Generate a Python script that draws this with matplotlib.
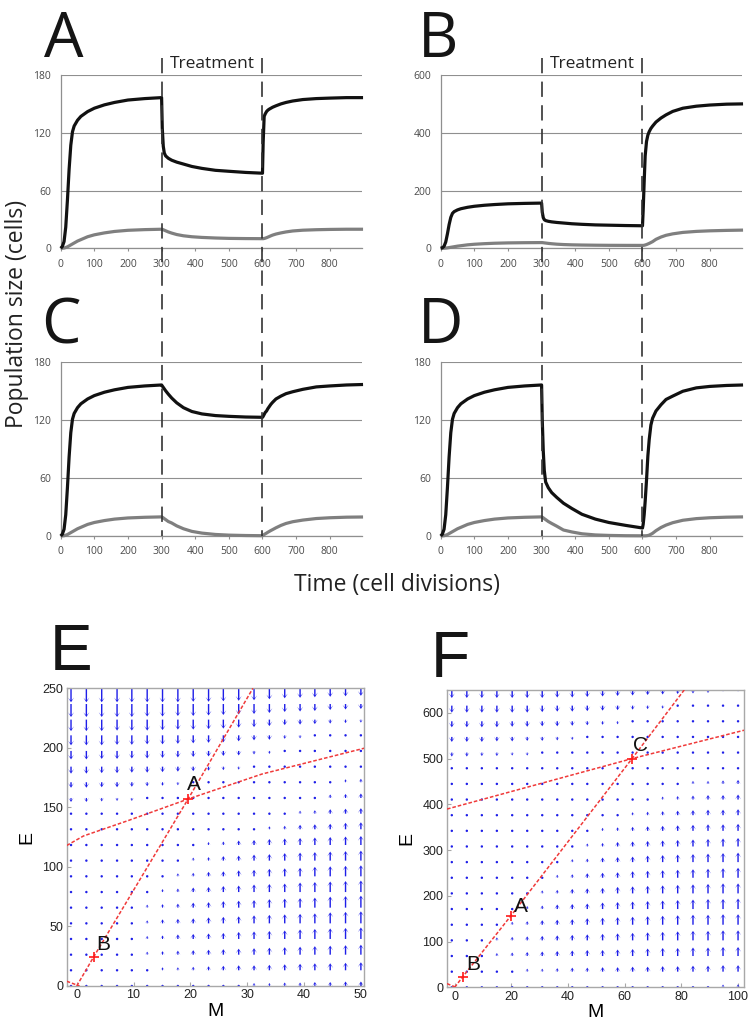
import numpy as np
import matplotlib
matplotlib.use('Agg')
import matplotlib.pyplot as plt
from matplotlib.lines import Line2D
from matplotlib.transforms import blended_transform_factory

plt.rcParams['lines.scale_dashes'] = False
plt.rcParams['font.family'] = ['Liberation Sans', 'DejaVu Sans']

# ------------------------------------------------------------------ data
t = [0, 5, 10, 15, 20, 25, 30, 35, 40, 50, 60, 80, 100, 130, 160, 200, 250, 300,
     302, 305, 308, 312, 320, 330, 345, 365, 390, 420, 460, 500, 550, 600,
     602, 605, 608, 612, 616, 620, 625, 630, 640, 655, 670, 690, 720, 760, 800, 850, 899]

black_A = [0, 2, 7, 22, 50, 82, 107, 121, 127, 133, 137, 142, 145.5, 149, 151.5, 154, 155.5, 156.5,
           125, 106, 99, 96, 93.5, 91.5, 89.5, 87.5, 85, 83, 81, 80, 78.8, 78,
           110, 137, 139.5, 142, 143.5, 144.5, 145.5, 146.5, 148, 150, 151.5, 153, 154.5, 155.5, 156, 156.5, 156.5]
gray_A = [0, 0.1, 0.3, 0.8, 1.5, 2.5, 3.5, 4.5, 5.5, 7.5, 9, 12, 14, 16, 17.5, 18.7, 19.4, 19.8,
          19.7, 19.3, 18.8, 18.2, 17, 15.8, 14.3, 13, 12, 11.3, 10.7, 10.3, 10.1, 10,
          10, 10.2, 10.5, 11, 11.6, 12.2, 13, 13.7, 14.8, 16, 17, 18, 18.8, 19.3, 19.6, 19.8, 19.8]

black_B = [0, 2, 7, 22, 50, 82, 107, 121, 127, 133, 137, 142, 145.5, 149, 151.5, 154, 155.5, 156.5,
           125, 106, 99, 96, 93.5, 91.5, 89.5, 87.5, 85, 83, 81, 80, 78.8, 78,
           130, 230, 320, 370, 392, 404, 415, 423, 437, 451, 462, 474, 485, 492, 496, 499, 500]
gray_B = [0, 0.1, 0.3, 0.8, 1.5, 2.5, 3.5, 4.5, 5.5, 7.5, 9, 12, 14, 16, 17.5, 18.7, 19.4, 19.8,
          19.7, 19.3, 18.8, 18.2, 17, 15.8, 14.3, 13, 12, 11.3, 10.7, 10.3, 10.1, 10,
          10, 10.5, 11.5, 13, 15, 17, 20, 23, 31, 39, 45, 50, 55, 58.5, 60.5, 62, 63]

black_C = [0, 2, 7, 22, 50, 82, 107, 121, 127, 133, 137, 142, 145.5, 149, 151.5, 154, 155.5, 156.5,
           155.5, 154, 152.5, 150.5, 147, 143, 138, 133, 129, 126.5, 124.8, 124, 123.3, 123,
           124, 126, 128, 129.5, 132, 134, 136.5, 138.5, 142, 145, 147.5, 149.5, 152, 154.5, 155.5, 156.5, 157]
gray_C = [0, 0.1, 0.3, 0.8, 1.5, 2.5, 3.5, 4.5, 5.5, 7.5, 9, 12, 14, 16, 17.5, 18.7, 19.4, 19.8,
          19.5, 18.8, 18, 17, 15, 13.5, 10.5, 7.5, 4.8, 3, 1.6, 0.9, 0.5, 0.3,
          0.8, 1.5, 2.2, 3, 3.9, 4.7, 5.7, 6.6, 8.5, 11, 13, 14.8, 16.5, 18.1, 18.9, 19.5, 19.7]

black_D = [0, 2, 7, 22, 50, 82, 107, 121, 127, 133, 137, 142, 145.5, 149, 151.5, 154, 155.5, 156.5,
           120, 88, 68, 56, 50, 45, 40, 34, 28.5, 22.5, 17.5, 14, 11, 8.3,
           12, 22, 36, 58, 83, 100, 115, 122, 129.5, 136, 141.5, 145, 150, 153.5, 155, 156, 156.5]
gray_D = [0, 0.1, 0.3, 0.8, 1.5, 2.5, 3.5, 4.5, 5.5, 7.5, 9, 12, 14, 16, 17.5, 18.7, 19.4, 19.8,
          19.5, 18.8, 18, 17, 15, 13, 10.2, 6.2, 4.2, 2.3, 1.1, 0.6, 0.3, 0.2,
          0.2, 0.2, 0.2, 0.3, 0.5, 0.9, 1.8, 2.8, 5.5, 8.8, 11.3, 13.8, 16.3, 18, 18.9, 19.5, 19.8]

time_xticks = [0, 100, 200, 300, 400, 500, 600, 700, 800]
yticks_small = [0, 60, 120, 180]
yticks_large = [0, 200, 400, 600]
treatment_bounds = [300, 600]

# phase-plane grids and vertical field components (arrow length, px; + = up)
e_M = [-1, 1.7, 4.4, 7.1, 9.7, 12.4, 15.1, 17.8, 20.5, 23.2, 25.8, 28.5, 31.2, 33.9, 36.6, 39.3, 41.9, 44.6, 47.3, 50]
e_E = [250, 236.8, 223.7, 210.5, 197.4, 184.2, 171.1, 157.9, 144.7, 131.6,
       118.4, 105.3, 92.1, 78.9, 65.8, 52.6, 39.5, 26.3, 13.2, 0]
e_V = [
    [-14, -14, -14, -14, -14, -14, -14, -14, -13.5, -13.5, -13, -12.5, -12, -11, -10, -9.5, -9, -8.5, -8, -7.5],
    [-13, -13, -13, -13, -13, -12.5, -12.5, -12, -12, -11.5, -11, -10.5, -10, -9, -8, -7.5, -7, -6, -5.5, -5],
    [-11.5, -11.5, -11.5, -11, -11, -11, -10.5, -10, -10, -9.5, -9, -8, -7.5, -6.5, -5.5, -5, -4.5, -4, -3.5, -3],
    [-10, -10, -10, -9.5, -9.5, -9, -9, -8.5, -8, -7.5, -7, -6, -5, -4.5, -3.5, -3, -2.5, -2, -1.5, -1.5],
    [-8.5, -8.5, -8, -8, -7.5, -7.5, -7, -6.5, -6, -5.5, -5, -4.5, -3.5, -3, -2.5, -2, -1.5, -1, -1, -1],
    [-7, -7, -6.5, -6.5, -6, -6, -5.5, -5, -4.5, -4, -3.5, -3, -2.5, -2, -1.5, -1, -1, 1, 1.5, 2],
    [-5.5, -5.5, -5, -5, -4.5, -4, -3.5, -3, -2.5, -2, -1.5, -1, -1, -1, 1, 1, 1.5, 2.5, 3, 3.5],
    [-4, -4, -3.5, -3, -3, -2.5, -2, -1.5, -1, -1, -0.5, 0.5, 1, 1, 1.5, 2, 2.5, 3.5, 4, 4.5],
    [-2.5, -2.5, -2, -2, -1.5, -1.5, -1, -1, -1, -0.5, 0.5, 1, 1.5, 2, 2.5, 3, 3.5, 4.5, 5, 5.5],
    [-1.5, -1.5, -1, -1, -1, -1, -0.5, -0.5, 0.5, 1, 1.5, 2, 2.5, 3, 3.5, 4.5, 5, 5.5, 6.5, 7],
    [-0.8, -0.8, -0.8, -0.8, -0.8, -0.8, 0.8, 1.5, 2.5, 3, 3.5, 4.5, 5, 6, 6.5, 7, 7.5, 8, 8.5, 9],
    [-0.8, -0.8, -0.8, -0.8, -0.8, 0.8, 1.5, 2.5, 3, 3.5, 4.5, 5, 6, 6.5, 7.5, 8, 8.5, 9, 9.5, 10],
    [-0.8, -0.8, -0.8, -0.8, 0.8, 1.5, 2.5, 3, 3.5, 4.5, 5, 6, 6.5, 7.5, 8, 8.5, 9.5, 10, 10.5, 11],
    [-0.8, -0.8, -0.8, 0.8, 1.5, 2.5, 3, 3.5, 4.5, 5, 6, 6.5, 7.5, 8, 8.5, 9.5, 10, 10.5, 11, 11.5],
    [-0.8, -0.8, 0.8, 1.5, 2, 3, 3.5, 4, 5, 5.5, 6.5, 7, 7.5, 8.5, 9, 9.5, 10, 11, 11.5, 12],
    [-0.8, 0.8, 1, 2, 2.5, 3, 4, 4.5, 5, 6, 6.5, 7, 8, 8.5, 9, 9.5, 10, 11, 11.5, 12],
    [-0.8, 0.8, 1.5, 2, 2.5, 3, 3.5, 4.5, 5, 5.5, 6, 7, 7.5, 8, 8.5, 9.5, 10, 10.5, 11, 11.5],
    [0.8, 0.8, 1.5, 2, 2.5, 3, 3.5, 4, 4.5, 5, 5.5, 6, 6.5, 7, 7.5, 8, 8.5, 9, 9.5, 10],
    [0.8, 1, 1.5, 1.5, 2, 2.5, 3, 3, 3.5, 4, 4.5, 5, 5, 5.5, 6, 6.5, 7, 7, 7.5, 8],
    [0.5, 0.5, 0.8, 0.8, 1, 1, 1.5, 1.5, 2, 2, 2.5, 2.5, 3, 3, 3.5, 3.5, 4, 4, 4.5, 4.5],
]

f_M = [-1, 4.3, 9.6, 14.9, 20.3, 25.6, 30.9, 36.2, 41.5, 46.8, 52.2, 57.5, 62.8, 68.1, 73.4, 78.7, 84.1, 89.4, 94.7, 100]
f_E = [650, 615.8, 581.6, 547.4, 513.2, 478.9, 444.7, 410.5, 376.3, 342.1,
       307.9, 273.7, 239.5, 205.3, 171.1, 136.8, 102.6, 68.4, 34.2, 0]
f_V = [
    [-8, -8, -8, -8, -8, -8, -8, -7.5, -7.5, -7, -6.5, -6, -5.5, -5, -4.5, -4, -3.5, -3, -2.5, -2],
    [-7, -7, -7, -7, -7, -7, -6.5, -6, -6, -5.5, -5, -4.5, -4, -3.5, -3, -2.5, -2, -1.5, -1.5, -1],
    [-6, -6, -6, -6, -5.5, -5.5, -5, -5, -4.5, -4, -3.5, -3, -2.5, -2, -1.5, -1, -1, -0.8, -0.8, -0.8],
    [-5, -5, -5, -4.5, -4.5, -4, -4, -3.5, -3, -2.5, -2, -1.5, -1, -1, -0.8, -0.8, -0.8, 0.8, 0.8, 0.8],
    [-4, -4, -3.5, -3.5, -3, -3, -2.5, -2, -1.5, -1.5, -1, -0.8, -0.8, 0.8, 0.8, 0.8, 1, 1, 1.5, 1.5],
    [-2.5, -2.5, -2.5, -2, -2, -1.5, -1.5, -1, -1, -0.8, -0.8, -0.8, 0.8, 1, 1.5, 1.5, 2, 2, 2.5, 2.5],
    [-1.5, -1.5, -1.5, -1.5, -1, -1, -1, -0.8, -0.8, -0.8, -0.8, 0.8, 1, 1.5, 2, 2.5, 3, 3, 3.5, 4],
    [-1, -1, -0.8, -0.8, -0.8, -0.8, -0.8, -0.8, -0.8, -0.8, 0.8, 1.5, 2, 2.5, 3, 3.5, 4, 4.5, 4.5, 5],
    [-0.8, -0.8, -0.8, -0.8, -0.8, -0.8, -0.8, -0.8, 0.8, 1.5, 2, 2.5, 3, 3.5, 4, 4.5, 5, 5.5, 5.5, 6],
    [0.8, 0.8, 0.8, 0.8, 0.8, 0.8, 0.8, 0.8, 1.5, 2.5, 3, 3.5, 4, 4.5, 5, 5.5, 6, 6.5, 6.5, 7],
    [0.8, 0.8, 0.8, 0.8, 0.8, 0.8, 0.8, 1.5, 2.5, 3, 3.5, 4.5, 5, 5.5, 6, 6.5, 7, 7.5, 8, 8.5],
    [0.8, 0.8, 0.8, 0.8, 0.8, 0.8, 1.5, 2.5, 3, 3.5, 4.5, 5, 5.5, 6.5, 7, 7.5, 8, 8.5, 9, 9.5],
    [0.8, 0.8, 0.8, 0.8, 0.8, 1, 2, 3, 3.5, 4.5, 5, 5.5, 6.5, 7, 7.5, 8, 8.5, 9, 9.5, 10],
    [0.8, 0.8, 0.8, 0.8, 1.5, 2.5, 3, 3.5, 4.5, 5, 5.5, 6.5, 7, 7.5, 8, 8.5, 9, 9.5, 10, 10],
    [0.8, 0.8, 0.8, 1, 2, 3, 3.5, 4.5, 5, 5.5, 6.5, 7, 7.5, 8, 8.5, 9, 9.5, 10, 10, 10.5],
    [0.8, 0.8, 1.5, 2.5, 3, 3.5, 4.5, 5, 5.5, 6.5, 7, 7.5, 8, 8.5, 9, 9.5, 10, 10, 10.5, 10.5],
    [0.8, 1, 2, 3, 3.5, 4, 4.5, 5, 5.5, 6, 6.5, 7, 7.5, 8, 8.5, 9, 9.5, 9.5, 10, 10],
    [0.8, 1.5, 2.5, 3, 3.5, 4, 4.5, 5, 5.5, 6, 6, 6.5, 7, 7.5, 8, 8, 8.5, 8.5, 9, 9],
    [0.8, 1, 1.5, 2, 2.5, 3, 3, 3.5, 4, 4, 4.5, 4.5, 5, 5, 5.5, 5.5, 6, 6, 6.5, 6.5],
    [0.5, 0.5, 0.8, 0.8, 1, 1, 1.2, 1.2, 1.5, 1.5, 1.8, 1.8, 2, 2, 2.2, 2.2, 2.5, 2.5, 2.8, 3],
]

# nullclines (M, E) and steady states
e_null1_M = [0, 3.0, 19.6, 31.0]
e_null1_E = [0, 24.6, 157, 250]
e_null2_M = [-1.76, 1.2, 9.1, 19.6, 32.6, 50.6]
e_null2_E = [118, 126, 139, 157, 178, 199.7]
e_null3_M = [-1.76, 0.5]
e_null3_E = [4, 0]
e_pts_M = [19.6, 3.0]
e_pts_E = [157, 24.6]
e_pts_lbl = ['A', 'B']
e_lbl_M = [20.7, 4.7]
e_lbl_E = [165, 30]

f_null1_M = [0, 2.9, 19.8, 62.6, 81.0]
f_null1_E = [0, 23.3, 156, 500, 650]
f_null2_M = [-2.7, 62.6, 102.1]
f_null2_E = [389.7, 500, 562]
f_null3_M = [-2.7, 0.5]
f_null3_E = [8, 0]
f_pts_M = [62.6, 19.8, 2.9]
f_pts_E = [500, 156, 23.3]
f_pts_lbl = ['C', 'A', 'B']
f_lbl_M = [65.6, 23.5, 6.5]
f_lbl_E = [516, 165.5, 38]

# ------------------------------------------------------------------ figure
W, H = 756, 1031
fig = plt.figure(figsize=(W / 100, H / 100), dpi=100)


def px_axes(left, top, right, bottom):
    return fig.add_axes([left / W, 1 - bottom / H, (right - left) / W, (bottom - top) / H])


axA = px_axes(60.7, 75, 361.7, 248.3)
axB = px_axes(440.7, 75, 741.7, 248.3)
axC = px_axes(60.7, 362.3, 361.7, 536)
axD = px_axes(440.7, 362.3, 741.7, 536)
axE = px_axes(66.7, 688.3, 364.3, 986)
axF = px_axes(447, 690, 744, 987.3)

GRID = '#8f8f8f'


def style_time(ax, yticks):
    ax.set_xlim(0, 895)
    ax.set_ylim(0, yticks[-1])
    ax.set_xticks(time_xticks)
    ax.set_yticks(yticks)
    for s in ['top', 'right']:
        ax.spines[s].set_visible(False)
    for s in ['left', 'bottom']:
        ax.spines[s].set_color(GRID)
        ax.spines[s].set_linewidth(0.9)
    ax.grid(axis='y', color=GRID, lw=0.8)
    ax.set_axisbelow(True)
    ax.tick_params(axis='y', length=0, pad=7, labelsize=7.5, labelcolor='#4a4a4a')
    ax.tick_params(axis='x', length=2.5, width=0.8, color=GRID, pad=5, labelsize=7.5, labelcolor='#4a4a4a')
    for lbl in ax.get_xticklabels() + ax.get_yticklabels():
        lbl.set_fontfamily('Open Sans')


panels = [(axA, black_A, gray_A, yticks_small), (axB, black_B, gray_B, yticks_large),
          (axC, black_C, gray_C, yticks_small), (axD, black_D, gray_D, yticks_small)]
for ax, blk, gry, yt in panels:
    style_time(ax, yt)
    ax.plot(t, gry, color='#7f7f7f', lw=2.3, solid_capstyle='butt', clip_on=False, zorder=3)
    ax.plot(t, blk, color='#111111', lw=2.3, solid_capstyle='butt', clip_on=False, zorder=4)

# treatment boundaries spanning both rows
for ax in (axA, axB):
    tr = blended_transform_factory(ax.transData, fig.transFigure)
    for xb in treatment_bounds:
        fig.add_artist(Line2D([xb, xb], [1 - 58 / H, 1 - 536 / H], transform=tr,
                              color='#333333', lw=1.2, dashes=(11, 6), zorder=10))
    ax.text(sum(treatment_bounds) / 2, 1 - 63.5 / H, 'Treatment', transform=tr,
            ha='center', va='center', fontsize=12.5, family='Open Sans', color='#222222')

# panel letters
for letter, x, y, fam, fs in [('A', 44, 57, 'Open Sans', 45), ('B', 418, 57, 'Open Sans', 45),
                              ('C', 41, 343, 'Open Sans', 45), ('D', 418, 343, 'Open Sans', 45),
                              ('E', 50, 670, 'Liberation Sans', 46), ('F', 431, 677, 'Liberation Sans', 46)]:
    fig.text(x / W, 1 - y / H, letter, fontsize=fs, family=fam, ha='left', va='baseline', color='#151515')

fig.text(17 / W, 1 - 313.5 / H, 'Population size (cells)', rotation=90, ha='center', va='center',
         fontsize=16.5, family='Open Sans', color='#222222')
fig.text(397 / W, 1 - 585 / H, 'Time (cell divisions)', ha='center', va='center',
         fontsize=16.5, family='Open Sans', color='#222222')


# ------------------------------------------------------------------ phase planes
def style_phase(ax, xlim, ylim, xticks, yticks):
    ax.set_xlim(*xlim)
    ax.set_ylim(*ylim)
    ax.set_xticks(xticks)
    ax.set_yticks(yticks)
    for s in ax.spines.values():
        s.set_color('#a8a8a8')
        s.set_linewidth(1.0)
    ax.tick_params(direction='in', length=3, color='#a8a8a8', labelsize=9, pad=2.5, labelcolor='#222222')
    ax.set_xlabel('M', fontsize=14, labelpad=1)
    ax.set_ylabel('E', fontsize=14, labelpad=5)


def draw_phase(ax, gm, ge, gv, nulls, pm, pe, plbl, lm, le):
    X, Y = np.meshgrid(gm, ge)
    V = np.array(gv, dtype=float)
    U = np.zeros_like(V)
    ax.quiver(X, Y, U, V, angles='uv', scale_units='dots', scale=1, units='dots', width=1.4,
              headwidth=4.3, headlength=3.4, headaxislength=1.5, minlength=1.9, minshaft=1,
              pivot='tail', color='#1e1ee8', zorder=2)
    for nm, ne in nulls:
        ax.plot(nm, ne, color='#f03a3a', lw=1.1, dashes=(2.6, 1.4), zorder=3)
    ax.plot(pm, pe, '+', color='#ff1a1a', ms=6.5, mew=1.2, zorder=4)
    for s, x, y in zip(plbl, lm, le):
        ax.text(x, y, s, fontsize=15, ha='center', va='baseline', color='#111111', zorder=5)


style_phase(axE, (-1.76, 50.6), (0, 250), [0, 10, 20, 30, 40, 50], [0, 50, 100, 150, 200, 250])
draw_phase(axE, e_M, e_E, e_V,
           [(e_null1_M, e_null1_E), (e_null2_M, e_null2_E), (e_null3_M, e_null3_E)],
           e_pts_M, e_pts_E, e_pts_lbl, e_lbl_M, e_lbl_E)

style_phase(axF, (-2.7, 102.1), (0, 650), [0, 20, 40, 60, 80, 100], [0, 100, 200, 300, 400, 500, 600])
draw_phase(axF, f_M, f_E, f_V,
           [(f_null1_M, f_null1_E), (f_null2_M, f_null2_E), (f_null3_M, f_null3_E)],
           f_pts_M, f_pts_E, f_pts_lbl, f_lbl_M, f_lbl_E)

fig.savefig('out.png', dpi=100)
